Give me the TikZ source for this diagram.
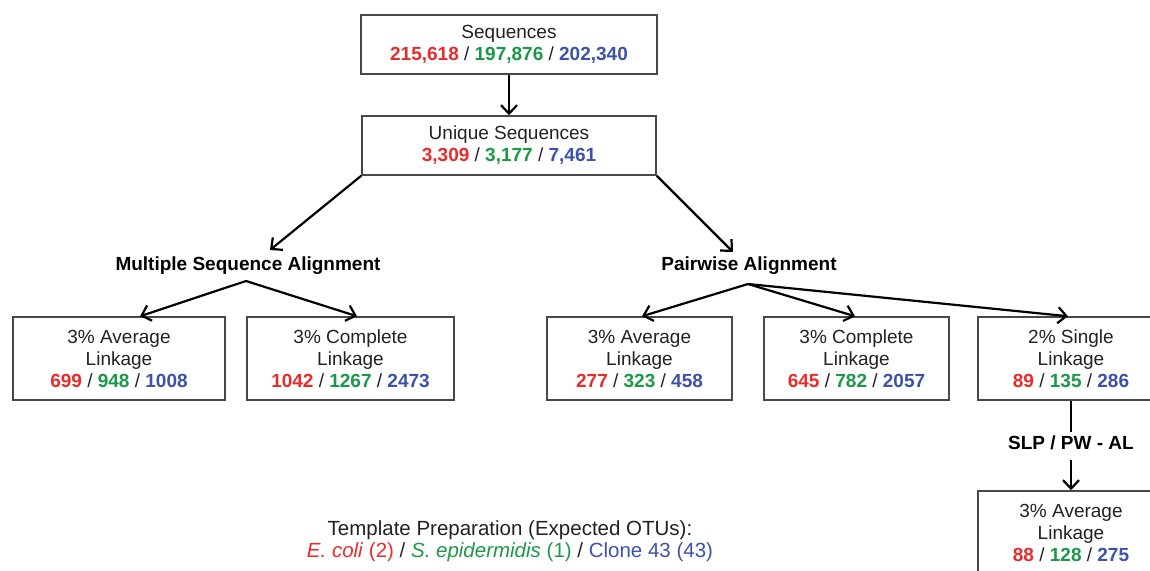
\documentclass[tikz,border=0pt]{standalone}
\usepackage{fontspec}
\setmainfont{Liberation Sans}
\usetikzlibrary{arrows.meta,calc}
\definecolor{cred}{RGB}{232,44,44}
\definecolor{cgreen}{RGB}{28,152,72}
\definecolor{cblue}{RGB}{60,82,170}
\definecolor{ctext}{RGB}{34,34,34}
\definecolor{cborder}{RGB}{72,72,72}
\newcommand{\numtrip}[3]{\textbf{\textcolor{cred}{#1}} / \textbf{\textcolor{cgreen}{#2}} / \textbf{\textcolor{cblue}{#3}}}
\tikzset{
  box/.style={draw=cborder, line width=1.5pt, fill=white, align=center, inner sep=0pt,
    text=ctext, font=\fontsize{19}{22}\selectfont},
  lbl/.style={align=center, inner sep=0pt, text=black, font=\fontsize{19}{22}\selectfont\bfseries},
  arr/.style={line width=2.2pt, -{Straight Barb[length=8.5pt,width=16pt,line width=2.2pt]}},
  plain/.style={line width=2.2pt}
}
\begin{document}
\begin{tikzpicture}[x=1pt,y=-1pt]
\useasboundingbox (0,0) rectangle (1150,570);
\clip (0,0) rectangle (1150,570);
\node[box, minimum width=296pt, minimum height=59pt] (seq) at (509,44.5)
  {Sequences\\\numtrip{215,618}{197,876}{202,340}};
\node[box, minimum width=294pt, minimum height=59pt] (uniq) at (509,145.5)
  {Unique Sequences\\\numtrip{3,309}{3,177}{7,461}};
\node[lbl] (msa) at (248,266) {Multiple Sequence Alignment};
\node[lbl] (pw) at (749,266) {Pairwise Alignment};
\node[box, minimum width=212pt, minimum height=83pt] (b1) at (119,358.5)
  {3\% Average\\Linkage\\\numtrip{699}{948}{1008}};
\node[box, minimum width=207pt, minimum height=83pt] (b2) at (350.5,358.5)
  {3\% Complete\\Linkage\\\numtrip{1042}{1267}{2473}};
\node[box, minimum width=185pt, minimum height=83pt] (b3) at (639.5,358.5)
  {3\% Average\\Linkage\\\numtrip{277}{323}{458}};
\node[box, minimum width=185pt, minimum height=83pt] (b4) at (856.5,358.5)
  {3\% Complete\\Linkage\\\numtrip{645}{782}{2057}};
\node[box, minimum width=186pt, minimum height=83pt] (b5) at (1071,358.5)
  {2\% Single\\Linkage\\\numtrip{89}{135}{286}};
\node[lbl] (slp) at (1071,443) {SLP / PW - AL};
\node[box, minimum width=186pt, minimum height=84pt] (b6) at (1071,533)
  {3\% Average\\Linkage\\\numtrip{88}{128}{275}};
\node[align=center, inner sep=0pt, text=ctext, font=\fontsize{20.5}{22.5}\selectfont] (tmpl) at (510,541)
  {Template Preparation (Expected OTUs):\\
   \textcolor{cred}{\textit{E. coli} (2)} / \textcolor{cgreen}{\textit{S. epidermidis} (1)} / \textcolor{cblue}{Clone 43 (43)}};
% free-end coordinates
\coordinate (msaT) at (270,250);
\coordinate (pwT) at (733,252);
\coordinate (msaA) at (246,281);
\coordinate (pwA) at (748,284);
\coordinate (slpTop) at (1071,432);
\coordinate (slpBot) at (1071,460);
% connectors
\draw[arr] (seq.south) -- (uniq.north);
\draw[arr] (uniq.south west) -- (msaT);
\draw[arr] (uniq.south east) -- (pwT);
\draw[arr] (msaA) -- ($(b1.north)+(21,0)$);
\draw[arr] (msaA) -- ($(b2.north)+(6.5,0)$);
\draw[arr] (pwA) -- ($(b3.north)+(2.5,0)$);
\draw[arr] (pwA) -- ($(b4.north)+(-1.5,0)$);
\draw[arr] (pwA) -- ($(b5.north)+(-3,0)$);
\draw[plain] (b5.south) -- (slpTop);
\draw[arr] (slpBot) -- (b6.north);
\end{tikzpicture}
\end{document}
